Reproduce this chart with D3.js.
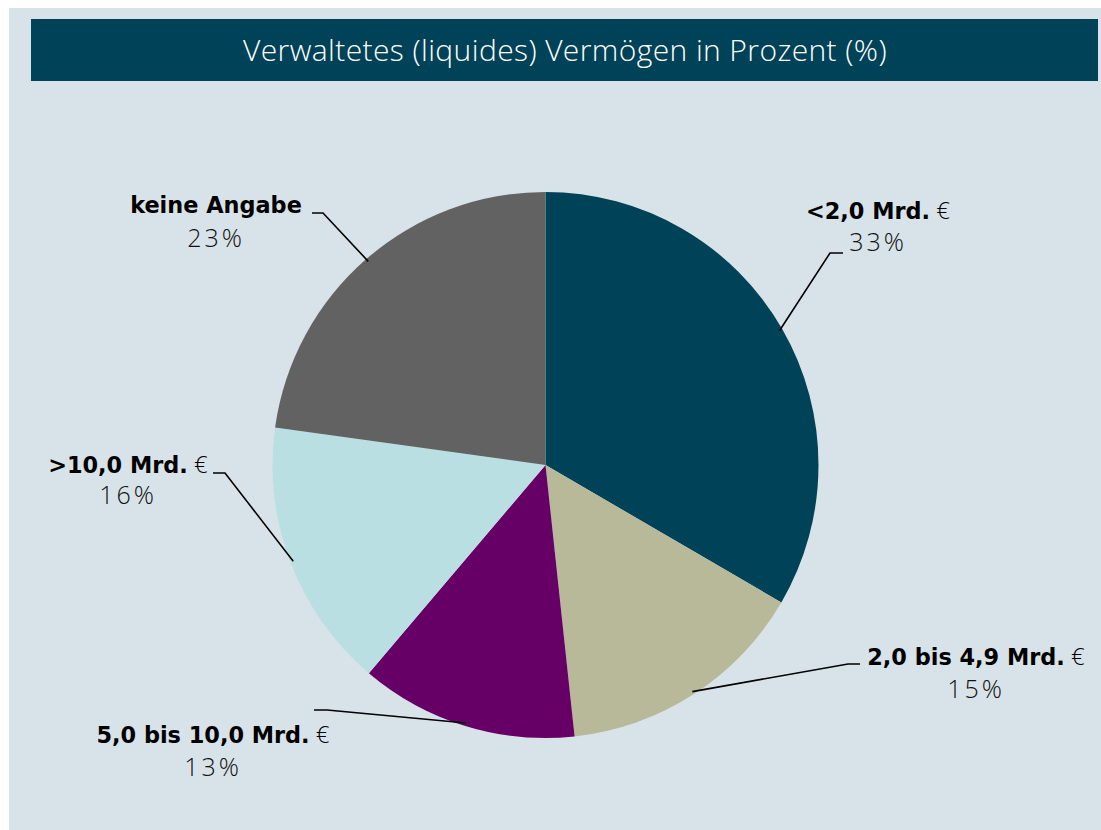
<!DOCTYPE html>
<html>
<head>
<meta charset="utf-8">
<script src="https://cdn.jsdelivr.net/npm/d3@7"></script>
<style>
  html, body { margin: 0; padding: 0; background: #ffffff; }
  svg { display: block; }
</style>
</head>
<body>
<svg id="chart" width="1101" height="830"></svg>
<script>
// ---- data ----
const title = "Verwaltetes (liquides) Vermögen in Prozent (%)";
const categories = ["<2,0 Mrd.", "2,0 bis 4,9 Mrd.", "5,0 bis 10,0 Mrd.", ">10,0 Mrd.", "keine Angabe"];
const currencySuffix = [true, true, true, true, false];
const values = [33.4, 14.9, 12.9, 16.0, 22.8];
const colors = ["#004258", "#b8b998", "#660066", "#badfe2", "#626262"];

// ---- layout (label placement, not data) ----
const labelLayout = [
  { elbow: [830, 253], endX: 843, cx: 878, y1: 219, y2: 251 },
  { elbow: [848, 664], endX: 860, cx: 976, y1: 665, y2: 698 },
  { elbow: [327, 710], endX: 314, cx: 213, y1: 743, y2: 776 },
  { elbow: [225, 473], endX: 213, cx: 128, y1: 473, y2: 504 },
  { elbow: [323, 213], endX: 312, cx: 216, y1: 213, y2: 247 }
];

const W = 1101, H = 830;
const svg = d3.select("#chart");
const font = "'Open Sans', 'Noto Sans', sans-serif";
const boldFont = "'DejaVu Sans', 'Open Sans', sans-serif";

// panel background
svg.append("rect").attr("x", 9).attr("y", 8).attr("width", W - 9).attr("height", H - 8)
  .attr("fill", "#d8e3e9");

// title bar
svg.append("rect").attr("x", 31).attr("y", 19).attr("width", 1067).attr("height", 62)
  .attr("fill", "#004258");
svg.append("text").attr("x", 565).attr("y", 61)
  .attr("text-anchor", "middle")
  .attr("font-family", font).attr("font-weight", 300).attr("font-size", 30)
  .attr("letter-spacing", 0.4)
  .attr("fill", "#ffffff")
  .text(title);

// pie
const cx = 545.5, cy = 465, R = 273;
const pie = d3.pie().sort(null).value(d => d)(values);
const arc = d3.arc().innerRadius(0).outerRadius(R);
const g = svg.append("g").attr("transform", `translate(${cx},${cy})`);
g.selectAll("path").data(pie).join("path")
  .attr("d", arc)
  .attr("fill", (d, i) => colors[i]);

// leader lines and labels
pie.forEach((d, i) => {
  const L = labelLayout[i];
  const mid = (d.startAngle + d.endAngle) / 2;
  const sx = cx + (R - 3) * Math.sin(mid);
  const sy = cy - (R - 3) * Math.cos(mid);
  svg.append("polyline")
    .attr("points", `${sx},${sy} ${L.elbow[0]},${L.elbow[1]} ${L.endX},${L.elbow[1]}`)
    .attr("fill", "none").attr("stroke", "#000").attr("stroke-width", 1.6);

  const t = svg.append("text").attr("x", L.cx).attr("y", L.y1)
    .attr("text-anchor", "middle").attr("font-size", 22.4)
    .attr("fill", "#000");
  t.append("tspan").attr("font-family", boldFont).attr("font-weight", 700).text(categories[i]);
  if (currencySuffix[i]) {
    t.append("tspan").attr("font-weight", 300).attr("font-family", font)
      .attr("font-size", 24).text(" €");
  }
  svg.append("text").attr("x", L.cx).attr("y", L.y2)
    .attr("text-anchor", "middle").attr("font-family", font).attr("font-weight", 300)
    .attr("font-size", 25).attr("letter-spacing", 3).attr("fill", "#111")
    .text(Math.round(values[i]) + "%");
});
</script>
</body>
</html>
